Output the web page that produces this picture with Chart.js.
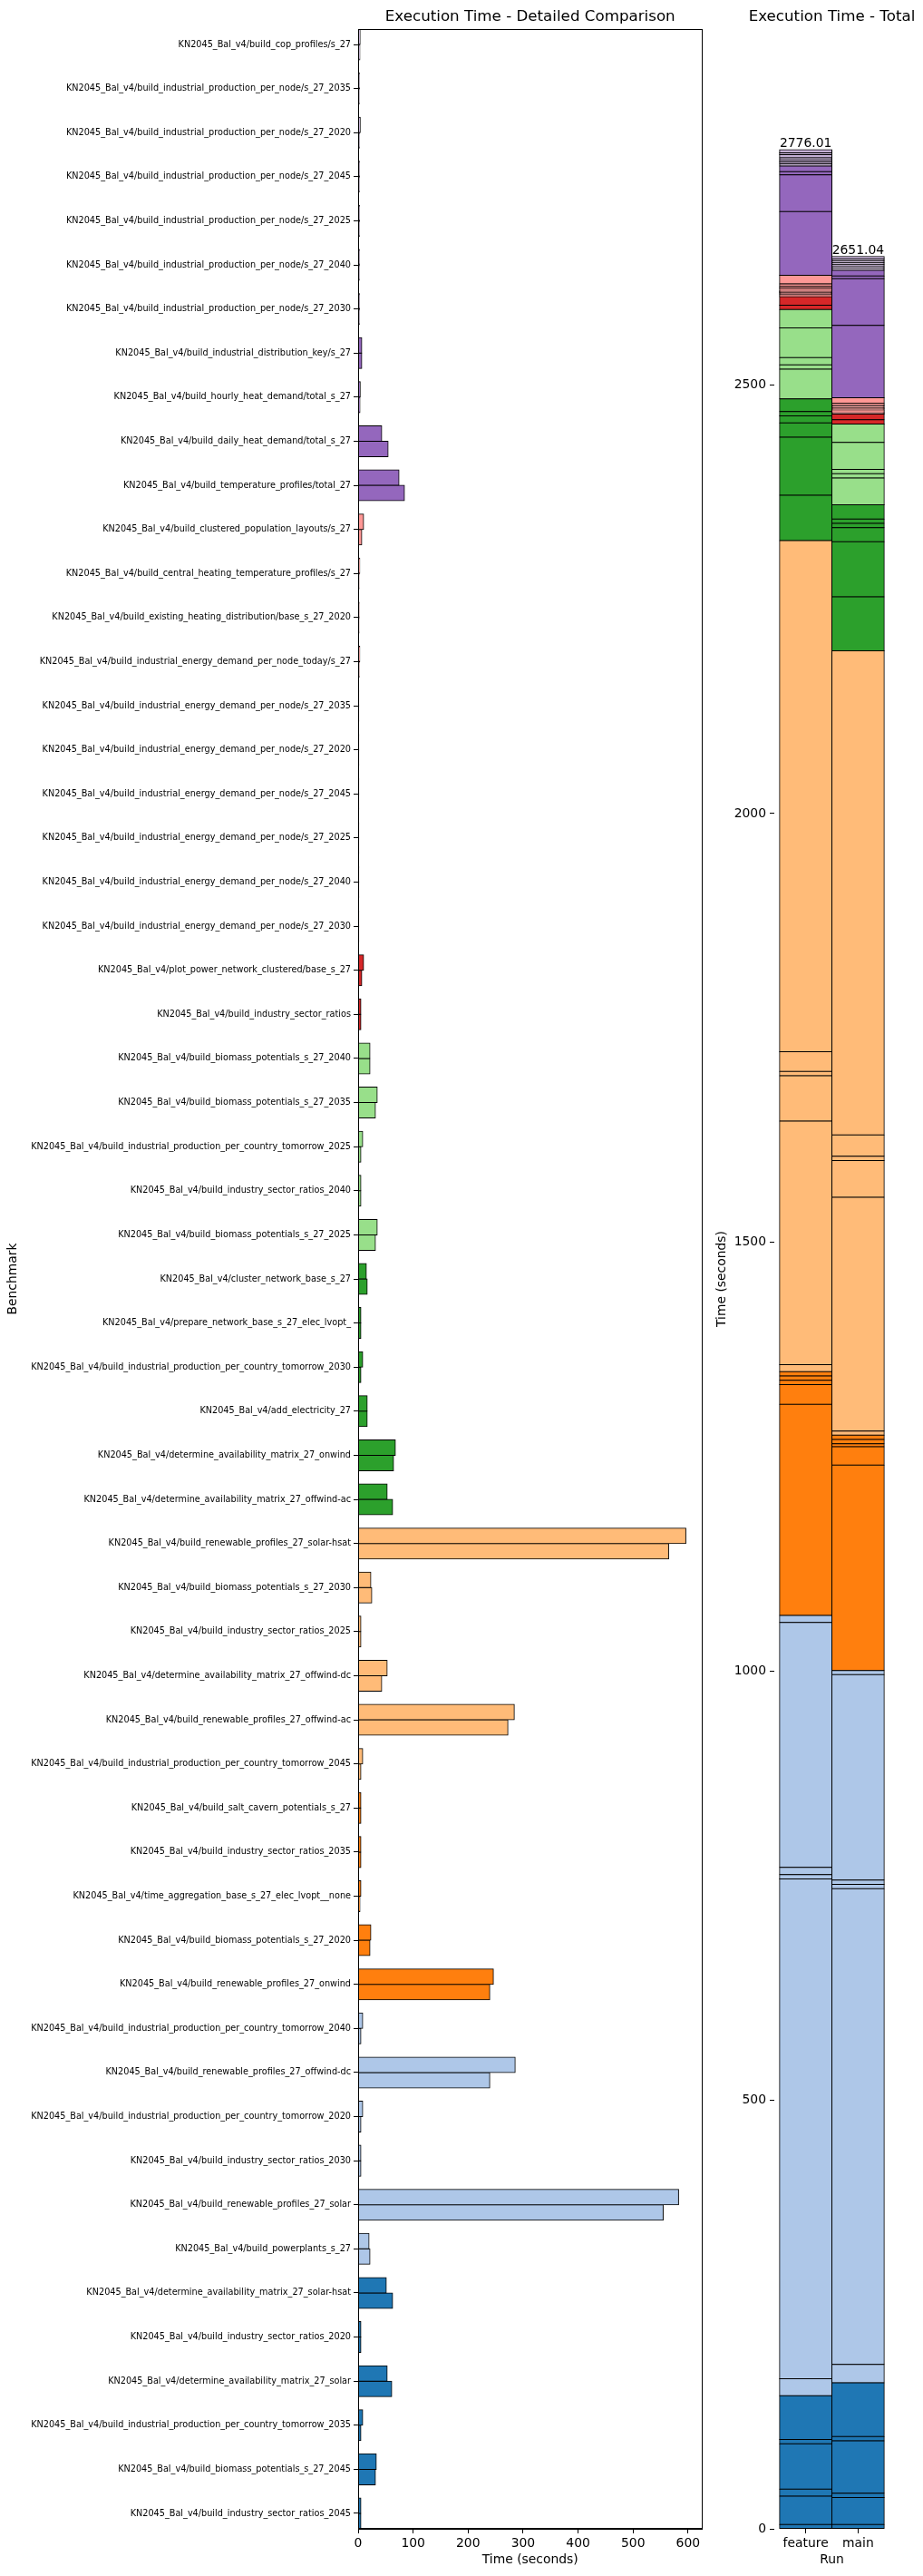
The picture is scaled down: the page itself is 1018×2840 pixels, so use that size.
<!DOCTYPE html>
<html>
<head>
<meta charset="utf-8">
<script src="https://cdn.jsdelivr.net/npm/chart.js@4.4.1/dist/chart.umd.min.js"></script>
<style>
html,body{margin:0;padding:0;background:#fff;}
#wrap{position:relative;width:1018px;height:2840px;overflow:hidden;}
#left{position:absolute;left:0;top:0;}
#right{position:absolute;left:780px;top:0;}
</style>
</head>
<body>
<div id="wrap">
<canvas id="left" width="790" height="2840"></canvas>
<canvas id="right" width="238" height="2840"></canvas>
</div>
<script>
// ---------------- DATA (top to bottom as shown in the detailed chart) ----------------
const benchmarks = [
  "KN2045_Bal_v4/build_cop_profiles/s_27",
  "KN2045_Bal_v4/build_industrial_production_per_node/s_27_2035",
  "KN2045_Bal_v4/build_industrial_production_per_node/s_27_2020",
  "KN2045_Bal_v4/build_industrial_production_per_node/s_27_2045",
  "KN2045_Bal_v4/build_industrial_production_per_node/s_27_2025",
  "KN2045_Bal_v4/build_industrial_production_per_node/s_27_2040",
  "KN2045_Bal_v4/build_industrial_production_per_node/s_27_2030",
  "KN2045_Bal_v4/build_industrial_distribution_key/s_27",
  "KN2045_Bal_v4/build_hourly_heat_demand/total_s_27",
  "KN2045_Bal_v4/build_daily_heat_demand/total_s_27",
  "KN2045_Bal_v4/build_temperature_profiles/total_27",
  "KN2045_Bal_v4/build_clustered_population_layouts/s_27",
  "KN2045_Bal_v4/build_central_heating_temperature_profiles/s_27",
  "KN2045_Bal_v4/build_existing_heating_distribution/base_s_27_2020",
  "KN2045_Bal_v4/build_industrial_energy_demand_per_node_today/s_27",
  "KN2045_Bal_v4/build_industrial_energy_demand_per_node/s_27_2035",
  "KN2045_Bal_v4/build_industrial_energy_demand_per_node/s_27_2020",
  "KN2045_Bal_v4/build_industrial_energy_demand_per_node/s_27_2045",
  "KN2045_Bal_v4/build_industrial_energy_demand_per_node/s_27_2025",
  "KN2045_Bal_v4/build_industrial_energy_demand_per_node/s_27_2040",
  "KN2045_Bal_v4/build_industrial_energy_demand_per_node/s_27_2030",
  "KN2045_Bal_v4/plot_power_network_clustered/base_s_27",
  "KN2045_Bal_v4/build_industry_sector_ratios",
  "KN2045_Bal_v4/build_biomass_potentials_s_27_2040",
  "KN2045_Bal_v4/build_biomass_potentials_s_27_2035",
  "KN2045_Bal_v4/build_industrial_production_per_country_tomorrow_2025",
  "KN2045_Bal_v4/build_industry_sector_ratios_2040",
  "KN2045_Bal_v4/build_biomass_potentials_s_27_2025",
  "KN2045_Bal_v4/cluster_network_base_s_27",
  "KN2045_Bal_v4/prepare_network_base_s_27_elec_lvopt_",
  "KN2045_Bal_v4/build_industrial_production_per_country_tomorrow_2030",
  "KN2045_Bal_v4/add_electricity_27",
  "KN2045_Bal_v4/determine_availability_matrix_27_onwind",
  "KN2045_Bal_v4/determine_availability_matrix_27_offwind-ac",
  "KN2045_Bal_v4/build_renewable_profiles_27_solar-hsat",
  "KN2045_Bal_v4/build_biomass_potentials_s_27_2030",
  "KN2045_Bal_v4/build_industry_sector_ratios_2025",
  "KN2045_Bal_v4/determine_availability_matrix_27_offwind-dc",
  "KN2045_Bal_v4/build_renewable_profiles_27_offwind-ac",
  "KN2045_Bal_v4/build_industrial_production_per_country_tomorrow_2045",
  "KN2045_Bal_v4/build_salt_cavern_potentials_s_27",
  "KN2045_Bal_v4/build_industry_sector_ratios_2035",
  "KN2045_Bal_v4/time_aggregation_base_s_27_elec_lvopt__none",
  "KN2045_Bal_v4/build_biomass_potentials_s_27_2020",
  "KN2045_Bal_v4/build_renewable_profiles_27_onwind",
  "KN2045_Bal_v4/build_industrial_production_per_country_tomorrow_2040",
  "KN2045_Bal_v4/build_renewable_profiles_27_offwind-dc",
  "KN2045_Bal_v4/build_industrial_production_per_country_tomorrow_2020",
  "KN2045_Bal_v4/build_industry_sector_ratios_2030",
  "KN2045_Bal_v4/build_renewable_profiles_27_solar",
  "KN2045_Bal_v4/build_powerplants_s_27",
  "KN2045_Bal_v4/determine_availability_matrix_27_solar-hsat",
  "KN2045_Bal_v4/build_industry_sector_ratios_2020",
  "KN2045_Bal_v4/determine_availability_matrix_27_solar",
  "KN2045_Bal_v4/build_industrial_production_per_country_tomorrow_2035",
  "KN2045_Bal_v4/build_biomass_potentials_s_27_2045",
  "KN2045_Bal_v4/build_industry_sector_ratios_2045"
];

const featureTimes = [
  3.6, 2.2, 3.8, 2.3, 2.3, 2.3, 2.4, 6.6, 3.8, 42.9,
  74.3, 9.9, 3.0, 1.8, 3.0, 1.2, 1.2, 1.2, 1.2, 1.2,
  1.2, 9.9, 5.0, 21.5, 34.7, 8.3, 5.0, 34.7, 14.9, 5.0,
  8.3, 16.5, 67.7, 52.8, 596.0, 23.1, 5.0, 52.8, 284.0, 8.3,
  5.0, 5.0, 5.0, 23.1, 246.0, 8.3, 285.6, 8.3, 5.0, 582.8,
  19.8, 51.2, 5.0, 52.8, 8.3, 33.0, 5.0
];

const mainTimes = [
  3.2, 2.0, 2.2, 2.1, 2.2, 2.1, 2.2, 6.6, 3.3, 54.5,
  84.2, 6.6, 1.7, 1.6, 1.9, 1.2, 1.2, 1.2, 1.2, 1.2,
  1.2, 6.6, 5.0, 21.5, 31.4, 5.0, 5.0, 31.4, 16.5, 5.0,
  5.0, 16.5, 64.4, 62.7, 564.7, 24.8, 5.0, 42.9, 272.4, 5.0,
  5.0, 5.0, 3.3, 21.5, 239.4, 5.0, 239.4, 5.0, 5.0, 554.8,
  21.5, 62.7, 5.0, 61.1, 5.0, 31.4, 5.0
];

const runs = ["feature", "main"];
const totalLabels = [2776.01, 2651.04];
const timeTicks = [0, 100, 200, 300, 400, 500, 600];
const totalTicks = [0, 500, 1000, 1500, 2000, 2500];

// ---------------- STYLE ----------------
const colorRuns = [
  [7, '#c5b0d5'], [4, '#9467bd'], [10, '#ff9896'], [2, '#d62728'], [5, '#98df8a'],
  [6, '#2ca02c'], [6, '#ffbb78'], [5, '#ff7f0e'], [6, '#aec7e8'], [6, '#1f77b4']
];
const benchColors = colorRuns.flatMap(([n, c]) => Array(n).fill(c));

const FAMILY = '"DejaVu Sans", sans-serif';
Chart.defaults.font.family = FAMILY;
Chart.defaults.color = '#000';
const F10 = {family: FAMILY, size: 13.9};
const F7 = {family: FAMILY, size: 9.7};

const framePlugin = {
  id: 'frame',
  afterDraw(chart, args, opts) {
    const {ctx, chartArea: a} = chart;
    ctx.save();
    if (opts.box) {
      ctx.strokeStyle = '#000';
      ctx.lineWidth = 1;
      ctx.strokeRect(Math.round(a.left) + 0.5, Math.round(a.top) + 0.5,
        Math.round(a.right - a.left) - 1, Math.round(a.bottom - a.top) - 1);
    }
    ctx.fillStyle = '#000';
    ctx.font = '16.7px ' + FAMILY;
    ctx.textAlign = 'center';
    ctx.textBaseline = 'alphabetic';
    ctx.fillText(opts.title, (a.left + a.right) / 2, 23);
    ctx.restore();
  }
};

const totalsPlugin = {
  id: 'totals',
  afterDatasetsDraw(chart) {
    const {ctx} = chart;
    const xs = chart.scales.x, ys = chart.scales.y;
    ctx.save();
    ctx.fillStyle = '#000';
    ctx.font = '13.9px ' + FAMILY;
    ctx.textAlign = 'center';
    ctx.textBaseline = 'alphabetic';
    runs.forEach((r, i) => {
      const arr = i === 0 ? featureTimes : mainTimes;
      const sum = arr.reduce((s, v) => s + v, 0);
      ctx.fillText(totalLabels[i].toFixed(2), xs.getPixelForValue(i), ys.getPixelForValue(sum) - 3);
    });
    ctx.restore();
  }
};

const tickGrid = {display: true, drawOnChartArea: false, drawTicks: true, tickLength: 5, color: '#000', lineWidth: 1, offset: false};
const barStyle = {borderColor: '#000', borderWidth: 1, borderSkipped: false, inflateAmount: 0.5};

// ---------------- LEFT: detailed comparison ----------------
new Chart(document.getElementById('left'), {
  type: 'bar',
  data: {
    datasets: [
      Object.assign({
        label: runs[0],
        data: featureTimes.map((v, i) => ({x: v, y: i})),
        backgroundColor: benchColors, barPercentage: 1, categoryPercentage: 0.7
      }, barStyle),
      Object.assign({
        label: runs[1],
        data: mainTimes.map((v, i) => ({x: v, y: i})),
        backgroundColor: benchColors, barPercentage: 1, categoryPercentage: 0.7
      }, barStyle)
    ]
  },
  options: {
    indexAxis: 'y',
    responsive: false, animation: false, devicePixelRatio: 1,
    layout: {padding: {left: 0, right: 15.5, top: 32, bottom: 0}},
    plugins: {
      legend: {display: false}, tooltip: {enabled: false},
      frame: {title: 'Execution Time - Detailed Comparison', box: true}
    },
    scales: {
      x: {
        type: 'linear', position: 'bottom', min: 0, max: 625.8, bounds: 'data', offset: false,
        afterBuildTicks: s => { s.ticks = timeTicks.map(v => ({value: v})); },
        afterFit: s => { s.height = 52; },
        ticks: {font: F10, color: '#000', maxRotation: 0, padding: 3, callback: v => String(v)},
        grid: tickGrid,
        border: {display: true, color: '#000', width: 1},
        title: {display: true, text: 'Time (seconds)', font: F10, color: '#000', padding: {top: 0, bottom: 9.7}}
      },
      y: {
        type: 'linear', position: 'left', reverse: true, min: -0.35, max: 56.35, bounds: 'data', offset: false,
        afterBuildTicks: s => { s.ticks = benchmarks.map((b, i) => ({value: i})); },
        afterFit: s => { s.width = 395; },
        ticks: {font: F7, color: '#000', autoSkip: false, padding: 3, callback: (v, i) => benchmarks[i]},
        grid: tickGrid,
        border: {display: true, color: '#000', width: 1},
        title: {display: true, text: 'Benchmark', font: F10, color: '#000', padding: {top: 5.7, bottom: 0}}
      }
    }
  },
  plugins: [framePlugin]
});

// ---------------- RIGHT: stacked totals ----------------
const stackOrder = benchmarks.map((b, i) => i).reverse();
new Chart(document.getElementById('right'), {
  type: 'bar',
  data: {
    datasets: stackOrder.map(i => Object.assign({
      label: benchmarks[i],
      data: runs.map((r, k) => ({x: k, y: (k === 0 ? featureTimes : mainTimes)[i]})),
      backgroundColor: benchColors[i],
      barPercentage: 1, categoryPercentage: 1, stack: 'total'
    }, barStyle))
  },
  options: {
    responsive: false, animation: false, devicePixelRatio: 1,
    layout: {padding: {left: 0, right: 37, top: 32, bottom: 0}},
    plugins: {
      legend: {display: false}, tooltip: {enabled: false},
      frame: {title: 'Execution Time - Total', box: false}
    },
    scales: {
      x: {
        type: 'linear', min: -0.6, max: 1.6, bounds: 'data', offset: false,
        afterBuildTicks: s => { s.ticks = runs.map((r, i) => ({value: i})); },
        afterFit: s => { s.height = 52; },
        ticks: {font: F10, color: '#000', maxRotation: 0, padding: 3, callback: (v, i) => runs[i]},
        grid: tickGrid,
        border: {display: false},
        title: {display: true, text: 'Run', font: F10, color: '#000', padding: {top: 0, bottom: 9.7}}
      },
      y: {
        type: 'linear', stacked: true, min: 0, max: 2914.8, bounds: 'data',
        afterBuildTicks: s => { s.ticks = totalTicks.map(v => ({value: v})); },
        afterFit: s => { s.width = 74; },
        ticks: {font: F10, color: '#000', padding: 4, callback: v => String(v)},
        grid: tickGrid,
        border: {display: false},
        title: {display: true, text: 'Time (seconds)', font: F10, color: '#000', padding: {top: 7.7, bottom: 0}}
      }
    }
  },
  plugins: [framePlugin, totalsPlugin]
});
</script>
</body>
</html>
